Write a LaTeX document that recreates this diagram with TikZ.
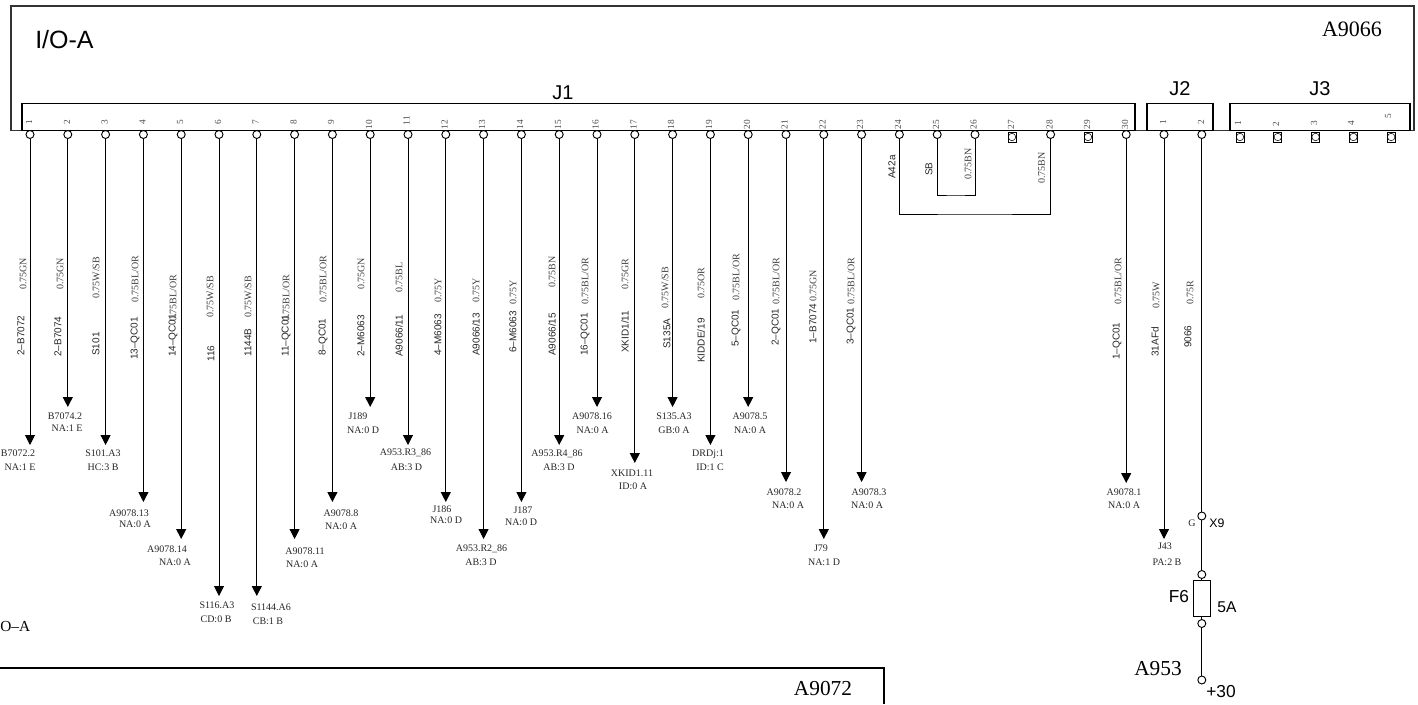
\documentclass[tikz,border=0pt]{standalone}
\usepackage{fontspec}
\setmainfont{Liberation Serif}
\setsansfont{Liberation Sans}
\usetikzlibrary{shapes,arrows.meta,positioning}

\begin{document}
\begin{tikzpicture}[x=0.75pt, y=-0.75pt, node distance=28.35pt,
    box/.style={rectangle, draw, line width=1.2pt, inner sep=0pt},
    pin/.style={circle, draw, fill=white, line width=0.7pt, inner sep=0pt, minimum size=6pt},
    pinfree/.style={rectangle, draw, fill=white, line width=0.5pt, inner sep=0pt, minimum width=6pt, minimum height=7.5pt,
        path picture={\draw[line width=0.4pt] (path picture bounding box.center) circle (2.8pt);}},
    pinno/.style={font=\fontsize{7}{7}\selectfont, text=black!70, rotate=90, anchor=east, inner sep=0pt},
    wirename/.style={font=\sffamily\fontsize{7.5}{8}\selectfont, text=black!85, rotate=90, anchor=west, inner sep=0pt},
    wirecol/.style={font=\fontsize{7.5}{8}\selectfont, text=black!75, rotate=90, anchor=west, inner sep=0pt},
    dest/.style={font=\fontsize{7.5}{8}\selectfont, text=black!85, inner sep=0pt},
    wire/.style={line width=0.75pt, -{Triangle[length=7.5pt,width=7.5pt]}},
    link/.style={line width=0.75pt}]

    \useasboundingbox (0,0) rectangle (1418,704);

    \node[box, draw=black!80, minimum width=1052.25pt, minimum height=93.4pt] (ioa) at (712.5,68.25) {};
    \node[box, minimum width=834.75pt, minimum height=20.25pt] (jone) at (578.5,117) {};
    \node[box, minimum width=49.5pt, minimum height=20.25pt] (jtwo) at (1180,117) {};
    \node[box, minimum width=135pt, minimum height=20.25pt] (jthree) at (1320,117) {};
    \node[font=\sffamily\fontsize{18.75}{20}\selectfont, anchor=west, inner sep=0pt] (ioname) at (35,40) {I/O-A};
    \node[font=\fontsize{16.5}{18}\selectfont, inner sep=0pt] (ioref) at (1352,29) {A9066};
    \node[font=\sffamily\fontsize{15}{16}\selectfont, above of=jone, node distance=18pt, xshift=-11.6pt] (jonename) {J1};
    \node[font=\sffamily\fontsize{15}{16}\selectfont, above of=jtwo, node distance=21pt] (jtwoname) {J2};
    \node[font=\sffamily\fontsize{15}{16}\selectfont, above of=jthree, node distance=21pt] (jthreename) {J3};

    \node[pinno] at (29,120) {1};
    \node[pinno] at (67,120) {2};
    \node[pinno] at (104.5,120) {3};
    \node[pinno] at (142.5,120) {4};
    \node[pinno] at (180,120) {5};
    \node[pinno] at (218,120) {6};
    \node[pinno] at (255.5,120) {7};
    \node[pinno] at (293.5,120) {8};
    \node[pinno] at (331,120) {9};
    \node[pinno] at (369,120) {10};
    \node[pinno] at (406.5,116) {11};
    \node[pinno] at (444.5,120) {12};
    \node[pinno] at (482,120) {13};
    \node[pinno] at (520,120) {14};
    \node[pinno] at (558,120) {15};
    \node[pinno] at (595.5,120) {16};
    \node[pinno] at (633.5,120) {17};
    \node[pinno] at (671,120) {18};
    \node[pinno] at (709,120) {19};
    \node[pinno] at (747,120) {20};
    \node[pinno] at (784.5,120) {21};
    \node[pinno] at (822.5,120) {22};
    \node[pinno] at (860,120) {23};
    \node[pinno] at (898,120) {24};
    \node[pinno] at (936,120) {25};
    \node[pinno] at (973.5,120) {26};
    \node[pinno] at (1011,120) {27};
    \node[pinno] at (1049.5,120) {28};
    \node[pinno] at (1087,120) {29};
    \node[pinno] at (1125,120) {30};
    \node[pinno] at (1163,120) {1};
    \node[pinno] at (1201,120) {2};
    \node[pinno] at (1238,121) {1};
    \node[pinno] at (1276,122) {2};
    \node[pinno] at (1314,121) {3};
    \node[pinno] at (1351,121) {4};
    \node[pinno] at (1388,114) {5};

    \node[pin] (p1) at (30,134.5) {};
    \node[pin, right of=p1] (p2) {};
    \node[pin, right of=p2] (p3) {};
    \node[pin, right of=p3] (p4) {};
    \node[pin, right of=p4] (p5) {};
    \node[pin, right of=p5] (p6) {};
    \node[pin, right of=p6] (p7) {};
    \node[pin, right of=p7] (p8) {};
    \node[pin, right of=p8] (p9) {};
    \node[pin, right of=p9] (p10) {};
    \node[pin, right of=p10] (p11) {};
    \node[pin, right of=p11] (p12) {};
    \node[pin, right of=p12] (p13) {};
    \node[pin, right of=p13] (p14) {};
    \node[pin, right of=p14] (p15) {};
    \node[pin, right of=p15] (p16) {};
    \node[pin, right of=p16] (p17) {};
    \node[pin, right of=p17] (p18) {};
    \node[pin, right of=p18] (p19) {};
    \node[pin, right of=p19] (p20) {};
    \node[pin, right of=p20] (p21) {};
    \node[pin, right of=p21] (p22) {};
    \node[pin, right of=p22] (p23) {};
    \node[pin, right of=p23] (p24) {};
    \node[pin, right of=p24] (p25) {};
    \node[pin, right of=p25] (p26) {};
    \node[pinfree] (p27) at (1012,137) {};
    \node[pin, right of=p26, node distance=56.7pt] (p28) {};
    \node[pinfree] (p29) at (1088,137) {};
    \node[pin, right of=p28, node distance=56.7pt] (p30) {};
    \node[pin, right of=p30] (q1) {};
    \node[pin, right of=q1] (q2) {};
    \node[pinfree] (r1) at (1240,137) {};
    \node[pinfree, right of=r1] (r2) {};
    \node[pinfree, right of=r2] (r3) {};
    \node[pinfree, right of=r3] (r4) {};
    \node[pinfree, right of=r4] (r5) {};

    \coordinate (t1) at (p1 |- 0,445);
    \coordinate (t2) at (p2 |- 0,407);
    \coordinate (t3) at (p3 |- 0,445);
    \coordinate (t4) at (p4 |- 0,502);
    \coordinate (t5) at (p5 |- 0,539);
    \coordinate (t6) at (p6 |- 0,596);
    \coordinate (t7) at (p7 |- 0,596);
    \coordinate (t8) at (p8 |- 0,539);
    \coordinate (t9) at (p9 |- 0,502);
    \coordinate (t10) at (p10 |- 0,407);
    \coordinate (t11) at (p11 |- 0,445);
    \coordinate (t12) at (p12 |- 0,502);
    \coordinate (t13) at (p13 |- 0,539);
    \coordinate (t14) at (p14 |- 0,502);
    \coordinate (t15) at (p15 |- 0,445);
    \coordinate (t16) at (p16 |- 0,407);
    \coordinate (t17) at (p17 |- 0,463);
    \coordinate (t18) at (p18 |- 0,407);
    \coordinate (t19) at (p19 |- 0,445);
    \coordinate (t20) at (p20 |- 0,407);
    \coordinate (t21) at (p21 |- 0,482);
    \coordinate (t22) at (p22 |- 0,539);
    \coordinate (t23) at (p23 |- 0,482);
    \coordinate (t30) at (p30 |- 0,483);
    \coordinate (u1) at (q1 |- 0,539);

    \draw[wire] (p1) -- (t1);
    \draw[wire] (p2) -- (t2);
    \draw[wire] (p3) -- (t3);
    \draw[wire] (p4) -- (t4);
    \draw[wire] (p5) -- (t5);
    \draw[wire] (p6) -- (t6);
    \draw[wire] (p7) -- (t7);
    \draw[wire] (p8) -- (t8);
    \draw[wire] (p9) -- (t9);
    \draw[wire] (p10) -- (t10);
    \draw[wire] (p11) -- (t11);
    \draw[wire] (p12) -- (t12);
    \draw[wire] (p13) -- (t13);
    \draw[wire] (p14) -- (t14);
    \draw[wire] (p15) -- (t15);
    \draw[wire] (p16) -- (t16);
    \draw[wire] (p17) -- (t17);
    \draw[wire] (p18) -- (t18);
    \draw[wire] (p19) -- (t19);
    \draw[wire] (p20) -- (t20);
    \draw[wire] (p21) -- (t21);
    \draw[wire] (p22) -- (t22);
    \draw[wire] (p23) -- (t23);
    \draw[wire] (p30) -- (t30);
    \draw[wire] (q1) -- (u1);

    \coordinate (jumpa) at (975,214);
    \coordinate (jumpb) at (955,195);
    \draw[link] (p24) |- (jumpa) -| (p28);
    \draw[link] (p25) |- (jumpb) -| (p26);

    \node[pin] (xnine) at (q2 |- 0,516) {};
    \node[pin] (fusea) at (q2 |- 0,574.5) {};
    \node[rectangle, draw, line width=0.6pt, inner sep=0pt, minimum width=12.75pt, minimum height=27pt] (fuse) at (q2 |- 0,598) {};
    \node[pin] (fuseb) at (q2 |- 0,623.5) {};
    \node[pin] (plus) at (q2 |- 0,680) {};
    \draw[link] (q2) -- (xnine);
    \draw[link] (xnine) -- (fusea);
    \draw[link] (fusea) -- (fuse);
    \draw[link] (fuse) -- (fuseb);
    \draw[link] (fuseb) -- (plus);

    \node[dest] (gpin) at (1192,523) {G};
    \node[font=\sffamily\fontsize{9.25}{10}\selectfont, inner sep=0pt] (xname) at (1217,523) {X9};
    \node[font=\sffamily\fontsize{13}{14}\selectfont, inner sep=0pt] (fname) at (1179,597) {F6};
    \node[font=\sffamily\fontsize{11.7}{13}\selectfont, inner sep=0pt] (fvalue) at (1227,607) {5A};
    \node[font=\fontsize{16}{18}\selectfont, inner sep=0pt] (aname) at (1158,669) {A953};
    \node[font=\sffamily\fontsize{13}{14}\selectfont, inner sep=0pt] (plusname) at (1221,692) {+30};

    \node[wirename] at (21,356) {2–B7072};
    \node[wirecol] at (23,290) {0.75GN};
    \node[wirename] at (58,357) {2–B7074};
    \node[wirecol] at (60,290) {0.75GN};
    \node[wirename] at (96,356) {S101};
    \node[wirecol] at (96,299) {0.75W/SB};
    \node[wirename] at (135,360) {13–QC01};
    \node[wirecol] at (135,303) {0.75BL/OR};
    \node[wirename] at (173,357) {14–QC01};
    \node[wirecol] at (173,322) {0.75BL/OR};
    \node[wirename] at (211,362) {116};
    \node[wirecol] at (210,318) {0.75W/SB};
    \node[wirename] at (248,357) {1144B};
    \node[wirecol] at (248,318) {0.75W/SB};
    \node[wirename] at (286,357) {11–QC01};
    \node[wirecol] at (286,322) {0.75BL/OR};
    \node[wirename] at (323,356) {8–QC01};
    \node[wirecol] at (323,303) {0.75BL/OR};
    \node[wirename] at (361,357) {2–M6063};
    \node[wirecol] at (361,290) {0.75GN};
    \node[wirename] at (399,357) {A9066/11};
    \node[wirecol] at (399,293) {0.75BL};
    \node[wirename] at (438,356) {4–M6063};
    \node[wirecol] at (438,303) {0.75Y};
    \node[wirename] at (476,356) {A9066/13};
    \node[wirecol] at (476,303) {0.75Y};
    \node[wirename] at (513,353) {6–M6063};
    \node[wirecol] at (513,305) {0.75Y};
    \node[wirename] at (552,356) {A9066/15};
    \node[wirecol] at (552,288) {0.75BN};
    \node[wirename] at (585,356) {16–QC01};
    \node[wirecol] at (585,305) {0.75BL/OR};
    \node[wirename] at (625,353) {XKID1/11};
    \node[wirecol] at (625,290) {0.75GR};
    \node[wirename] at (667,349) {S135A};
    \node[wirecol] at (665,309) {0.75W/SB};
    \node[wirename] at (701,363) {KIDDE/19};
    \node[wirecol] at (701,299) {0.75OR};
    \node[wirename] at (736,347) {5–QC01};
    \node[wirecol] at (736,301) {0.75BL/OR};
    \node[wirename] at (776,346) {2–QC01};
    \node[wirecol] at (776,305) {0.75BL/OR};
    \node[wirename] at (813,344) {1–B7074};
    \node[wirecol] at (813,302) {0.75GN};
    \node[wirename] at (851,345) {3–QC01};
    \node[wirecol] at (851,305) {0.75BL/OR};
    \node[wirename] at (892,179) {A42a};
    \node[wirename] at (929,176) {SB};
    \node[wirecol] at (968,180) {0.75BN};
    \node[wirecol] at (1041.5,184) {0.75BN};
    \node[wirename] at (1117,360) {1–QC01};
    \node[wirecol] at (1118,305) {0.75BL/OR};
    \node[wirename] at (1155,357) {31AFd};
    \node[wirecol] at (1156,309) {0.75W};
    \node[wirename] at (1188,348) {9066};
    \node[wirecol] at (1190,305) {0.75R};

    \node[dest] at (18,453) {B7072.2};
    \node[dest] at (20,467) {NA:1 E};
    \node[dest] at (65,416) {B7074.2};
    \node[dest] at (67,428) {NA:1 E};
    \node[dest] at (103,453) {S101.A3};
    \node[dest] at (103,467) {HC:3 B};
    \node[dest] at (129,513) {A9078.13};
    \node[dest] at (135,524) {NA:0 A};
    \node[dest] at (167,549) {A9078.14};
    \node[dest] at (175,562) {NA:0 A};
    \node[dest] at (217,605) {S116.A3};
    \node[dest] at (216,619) {CD:0 B};
    \node[dest] at (271,607) {S1144.A6};
    \node[dest] at (268,621) {CB:1 B};
    \node[dest] at (305,551) {A9078.11};
    \node[dest] at (302,564) {NA:0 A};
    \node[dest] at (341,513) {A9078.8};
    \node[dest] at (341,526) {NA:0 A};
    \node[dest] at (358,416) {J189};
    \node[dest] at (363,430) {NA:0 D};
    \node[dest] at (405.5,453) {A953.R3\_86};
    \node[dest] at (406.5,467) {AB:3 D};
    \node[dest] at (442,509) {J186};
    \node[dest] at (446,520) {NA:0 D};
    \node[dest] at (481.5,549) {A953.R2\_86};
    \node[dest] at (481,562) {AB:3 D};
    \node[dest] at (523,510) {J187};
    \node[dest] at (521,522) {NA:0 D};
    \node[dest] at (557,454) {A953.R4\_86};
    \node[dest] at (559,467) {AB:3 D};
    \node[dest] at (592,416) {A9078.16};
    \node[dest] at (592.5,430) {NA:0 A};
    \node[dest] at (632,473) {XKID1.11};
    \node[dest] at (633,486) {ID:0 A};
    \node[dest] at (674,416) {S135.A3};
    \node[dest] at (674,430) {GB:0 A};
    \node[dest] at (708,454) {DRDj:1};
    \node[dest] at (710,467) {ID:1 C};
    \node[dest] at (750,416) {A9078.5};
    \node[dest] at (750,430) {NA:0 A};
    \node[dest] at (784,492) {A9078.2};
    \node[dest] at (788,505) {NA:0 A};
    \node[dest] at (821,548) {J79};
    \node[dest] at (824,562) {NA:1 D};
    \node[dest] at (869,492) {A9078.3};
    \node[dest] at (867,505) {NA:0 A};
    \node[dest] at (1124,492) {A9078.1};
    \node[dest] at (1124,505) {NA:0 A};
    \node[dest] at (1165,546) {J43};
    \node[dest] at (1167,562) {PA:2 B};

    \node[font=\fontsize{11.5}{14}\selectfont, anchor=east, inner sep=0pt] (offname) at (30.5,626) {O–A};
    \coordinate (lowa) at (0,668);
    \coordinate (lowb) at (884,668);
    \coordinate (lowc) at (884,704);
    \draw[line width=1.1pt] (lowa) -- (lowb) -- (lowc);
    \node[font=\fontsize{16}{18}\selectfont, inner sep=0pt] (lowref) at (823,688) {A9072};
\end{tikzpicture}
\end{document}
